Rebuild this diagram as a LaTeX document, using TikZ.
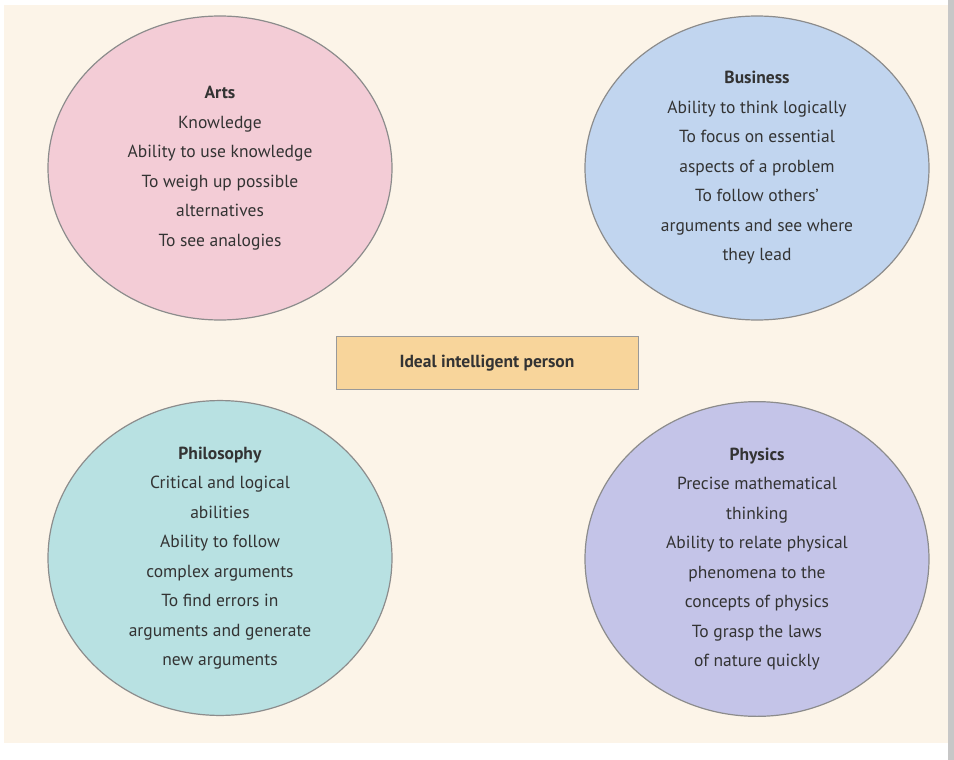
\documentclass[tikz,border=0pt]{standalone}
\usepackage{fontspec}
\setmainfont{PT Sans}
\usetikzlibrary{shapes.geometric}
\definecolor{bg}{RGB}{252,244,232}
\definecolor{cArts}{RGB}{243,204,214}
\definecolor{cBus}{RGB}{193,213,239}
\definecolor{cPhil}{RGB}{184,225,226}
\definecolor{cPhys}{RGB}{196,196,232}
\definecolor{cBox}{RGB}{248,213,155}
\begin{document}
\begin{tikzpicture}[x=1pt,y=-1pt,
  ell/.style={draw=black!45,line width=1.2pt,ellipse,minimum width=344pt,minimum height=304pt,align=center,text=black!80,font=\fontsize{17.5}{29.5}\selectfont,inner sep=0pt}]
\useasboundingbox (0,0) rectangle (954,760);
\fill[white] (0,0) rectangle (954,760);
\fill[bg] (4,5) rectangle (948,743);
\fill[black!22] (948,0) rectangle (954,760);
\node[ell,fill=cArts] (arts) at (220,168) {\textbf{Arts}\\Knowledge\\Ability to use knowledge\\To weigh up possible\\alternatives\\To see analogies};
\node[ell,fill=cBus] (bus) at (757,168) {\textbf{Business}\\Ability to think logically\\To focus on essential\\aspects of a problem\\To follow others’\\arguments and see where\\they lead};
\node[ell,fill=cPhil] (phil) at (220,558) {\textbf{Philosophy}\\Critical and logical\\abilities\\Ability to follow\\complex arguments\\To find errors in\\arguments and generate\\new arguments};
\node[ell,fill=cPhys] (phys) at (757,559) {\textbf{Physics}\\Precise mathematical\\thinking\\Ability to relate physical\\phenomena to the\\concepts of physics\\To grasp the laws\\of nature quickly};
\node[draw=black!40,line width=1pt,fill=cBox,minimum width=302pt,minimum height=53pt,font=\fontsize{17.5}{20}\selectfont\bfseries,text=black!80] (ideal) at (487,363) {Ideal intelligent person};
\end{tikzpicture}
\end{document}
